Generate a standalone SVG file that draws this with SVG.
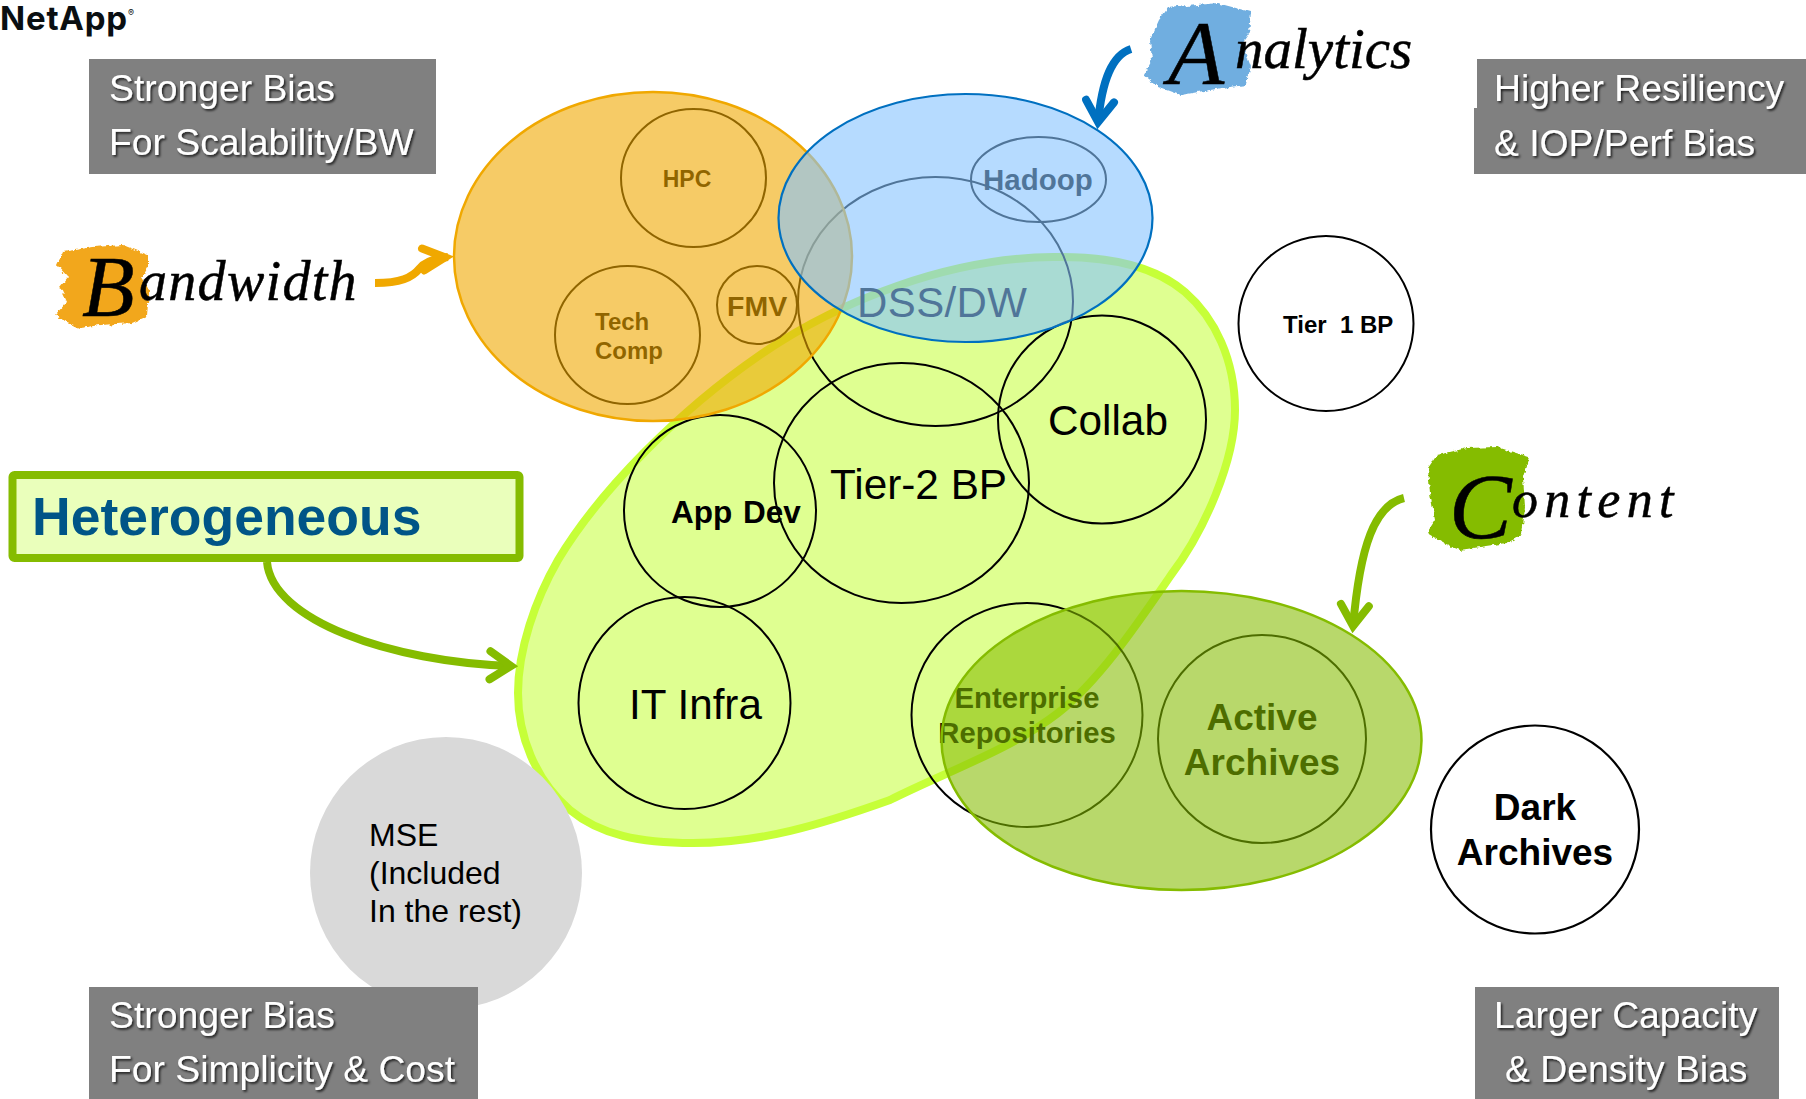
<svg xmlns="http://www.w3.org/2000/svg" width="1806" height="1099" viewBox="0 0 1806 1099">
<defs>
<filter id="rough" x="-10%" y="-10%" width="120%" height="120%"><feTurbulence type="fractalNoise" baseFrequency="0.2" numOctaves="3" seed="4"/><feDisplacementMap in="SourceGraphic" scale="5" xChannelSelector="R" yChannelSelector="G"/><feGaussianBlur stdDeviation="0.7"/></filter>
<filter id="shadow" x="-5%" y="-20%" width="110%" height="140%"><feDropShadow dx="1.6" dy="1.8" stdDeviation="0.9" flood-color="#000" flood-opacity="0.75"/></filter>
<marker id="arrowOrange" markerUnits="userSpaceOnUse" markerWidth="60" markerHeight="50" refX="52" refY="25" orient="auto"><path d="M18 14 L40 25 L18 36" fill="none" stroke="#F0A800" stroke-width="8" stroke-linecap="round" stroke-miterlimit="8" transform="translate(9 0)"/></marker>
<marker id="arrowBlue" markerUnits="userSpaceOnUse" markerWidth="60" markerHeight="50" refX="48" refY="25" orient="auto"><path d="M19 11 L40 25 L19 39" fill="none" stroke="#0070C0" stroke-width="8" stroke-linecap="round" stroke-miterlimit="8" transform="translate(7 0)"/></marker>
<marker id="arrowGreen" markerUnits="userSpaceOnUse" markerWidth="60" markerHeight="50" refX="48" refY="25" orient="auto"><path d="M19 11 L40 25 L19 39" fill="none" stroke="#85BC00" stroke-width="8" stroke-linecap="round" stroke-miterlimit="8" transform="translate(7 0)"/></marker>
</defs>
<style>
text{font-family:"Liberation Sans",Arial,sans-serif;fill:#000}
.b{font-weight:700}
.m{text-anchor:middle}
.ring{fill:none;stroke:#000;stroke-width:2}
.bias{fill:#808080}
.biast{fill:#fff;font-size:37.3px;filter:url(#shadow)}
.script{font-family:"Liberation Serif",serif;font-style:italic;stroke:#000;stroke-width:.5}
.conn{fill:none;stroke-width:8}
</style>
<rect width="1806" height="1099" fill="#fff"/>
<g id="logo"><text x="0" y="30" class="b" style="font-family:Inter,'Liberation Sans',sans-serif;font-size:33px;fill:#0a0f12" letter-spacing="0.8">NetApp<tspan font-size="9" dy="-14" font-weight="400" letter-spacing="0">®</tspan></text></g>

<g id="heterogeneous-group"><path d="M1053 257 C1100 256 1150 262 1185 292 C1215 318 1235 360 1235 410 C1235 460 1205 530 1171 575 C1140 620 1100 680 1058 713 C1010 750 950 770 890 800 C820 825 760 843 693 843 C640 843 600 835 570 810 C535 780 518 735 518 693 C518 650 535 600 558 560 C600 490 680 410 760 355 C840 300 950 258 1053 257Z" fill="#DFFF91" stroke="#C6FF38" stroke-width="8"/></g>
<g id="dss"><ellipse class="ring" cx="935.5" cy="301.5" rx="137.5" ry="124.5"/><text x="857" y="317" font-size="42" textLength="170">DSS/DW</text></g>
<g id="tier2"><ellipse class="ring" cx="901.5" cy="483" rx="127.5" ry="120"/><text x="830" y="499" font-size="42.3">Tier-2 BP</text></g>
<g id="appdev"><circle class="ring" cx="720" cy="511" r="96"/><text x="671" y="523" class="b" font-size="31.5" word-spacing="2">App Dev</text></g>
<g id="collab"><circle class="ring" cx="1102" cy="419.5" r="104"/><text x="1048" y="435" font-size="42.3">Collab</text></g>
<g id="itinfra"><circle class="ring" cx="684.5" cy="703" r="106"/><text x="629" y="719" font-size="42.2">IT Infra</text></g>
<g id="enterprise"><ellipse class="ring" cx="1027" cy="715" rx="115.5" ry="112"/><text class="b m" font-size="29.3"><tspan x="1027" y="708">Enterprise</tspan><tspan x="1027" y="743">Repositories</tspan></text></g>
<g id="active"><circle class="ring" cx="1262" cy="739" r="104"/><text class="b m" font-size="37"><tspan x="1262" y="730">Active</tspan><tspan x="1262" y="775">Archives</tspan></text></g>
<ellipse id="content-group" cx="1181.5" cy="740.5" rx="240" ry="149.5" fill="#85BC00" fill-opacity=".58" stroke="#85BC00" stroke-width="2.5"/>

<g id="hpc"><ellipse class="ring" cx="693.5" cy="178" rx="72.5" ry="69"/><text x="687" y="187" class="b m" font-size="23">HPC</text></g>
<g id="techcomp"><ellipse class="ring" cx="627.5" cy="335" rx="72.5" ry="69"/><text class="b" font-size="24"><tspan x="595" y="330">Tech</tspan><tspan x="595" y="359">Comp</tspan></text></g>
<g id="fmv"><ellipse class="ring" cx="757" cy="305" rx="40" ry="39"/><text x="727" y="316" class="b" font-size="28.5">FMV</text></g>
<ellipse id="bandwidth-group" cx="653" cy="256.5" rx="199" ry="164.5" fill="#F0A800" fill-opacity=".6" stroke="#F0A800" stroke-width="2.5"/>

<g id="hadoop"><ellipse class="ring" cx="1038.5" cy="179.5" rx="67.5" ry="42.5"/><text x="983" y="190" class="b" font-size="29.5">Hadoop</text></g>
<ellipse id="analytics-group" cx="965.5" cy="218" rx="187" ry="124" fill="#85C3FF" fill-opacity=".6" stroke="#0070C0" stroke-width="2.2"/>

<g id="tier1"><circle cx="1326" cy="323.5" r="87.5" fill="#fff" stroke="#000" stroke-width="2"/><text x="1283" y="333" class="b" font-size="24" xml:space="preserve">Tier  1 BP</text></g>
<g id="dark"><circle cx="1535" cy="829.5" r="104" fill="#fff" stroke="#000" stroke-width="2.2"/><text class="b m" font-size="37"><tspan x="1535" y="820">Dark</tspan><tspan x="1535" y="865">Archives</tspan></text></g>
<g id="mse"><circle cx="446" cy="873" r="136" fill="#D9D9D9"/><text font-size="32" fill="#111"><tspan x="369" y="846">MSE</tspan><tspan x="369" y="884">(Included</tspan><tspan x="369" y="922">In the rest)</tspan></text></g>

<g id="bias-scalability"><rect class="bias" x="89" y="59" width="347" height="115"/><text class="biast"><tspan x="109" y="101">Stronger Bias</tspan><tspan x="109" y="155">For Scalability/BW</tspan></text></g>
<g id="bias-resiliency"><path class="bias" d="M1477 59H1806V174H1474V108H1477Z"/><text class="biast"><tspan x="1494" y="101">Higher Resiliency</tspan><tspan x="1494" y="156">&amp; IOP/Perf Bias</tspan></text></g>
<g id="bias-simplicity"><rect class="bias" x="89" y="987" width="389" height="112"/><text class="biast"><tspan x="109" y="1028">Stronger Bias</tspan><tspan x="109" y="1082">For Simplicity &amp; Cost</tspan></text></g>
<g id="bias-capacity"><rect class="bias" x="1475" y="987" width="304" height="112"/><text class="biast"><tspan x="1494" y="1028">Larger Capacity</tspan><tspan x="1505" y="1082">&amp; Density Bias</tspan></text></g>

<g id="tag-heterogeneous"><rect x="12.5" y="475" width="507" height="83" rx="2" fill="#EAFFBB" stroke="#85BC00" stroke-width="8"/><text x="32" y="535" class="b" font-size="53.5" style="fill:#005587">Heterogeneous</text></g>
<g id="tag-bandwidth"><path filter="url(#rough)" fill="#F2A71E" d="M63 252L93 247L123 245L148 255L148 267L142 278L149 290L147 317L133 323L100 325L80 328L63 320L55 315L67 302L60 287L68 277L57 265Z"/><text class="script"><tspan x="82" y="316" font-size="86">B</tspan><tspan x="139" y="300" font-size="56" letter-spacing="1.3">andwidth</tspan></text></g>
<g id="tag-analytics"><path filter="url(#rough)" fill="#6FAEE0" d="M1168 8L1217 3L1251 12L1249 33L1242 43L1251 67L1246 85L1222 88L1181 95L1159 87L1144 75L1152 60L1150 40L1159 20Z"/><text class="script"><tspan x="1168" y="84" font-size="92">A</tspan><tspan x="1235" y="68" font-size="57">nalytics</tspan></text></g>
<g id="tag-content"><path filter="url(#rough)" fill="#85BC00" d="M1437 455L1467 448L1497 447L1529 457L1523 477L1525 507L1522 535L1507 543L1460 550L1447 545L1427 533L1435 520L1430 493L1428 468Z"/><text class="script"><tspan x="1449" y="538" font-size="94">C</tspan><tspan x="1512" y="517" font-size="52" letter-spacing="6.3">ontent</tspan></text></g>

<g id="connectors">
<path class="conn" stroke="#F0A800" d="M375 283C400 283 412 278 420 268C426 261 438 258 448 257" marker-end="url(#arrowOrange)"/>
<path class="conn" stroke="#0070C0" d="M1131 49C1112 55 1102 80 1098 123" marker-end="url(#arrowBlue)"/>
<path class="conn" stroke="#85BC00" d="M267 562C272 620 390 662 512 666" marker-end="url(#arrowGreen)"/>
<path class="conn" stroke="#85BC00" d="M1404 498C1375 505 1360 545 1353 627" marker-end="url(#arrowGreen)"/>
</g>
</svg>
